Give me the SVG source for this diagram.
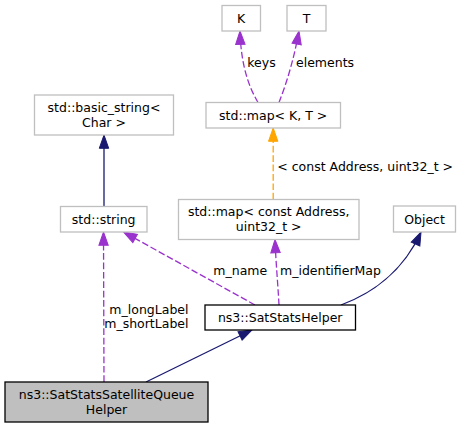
<svg xmlns="http://www.w3.org/2000/svg" width="465" height="428" viewBox="0 0 465 428">
<style>
text{font-family:"DejaVu Sans","Liberation Sans",sans-serif;font-size:12.5px;fill:#000}
.n text{text-anchor:middle}
.g rect{fill:#fff;stroke:#bfbfbf;stroke-width:1.3}
.b rect{fill:#fff;stroke:#000;stroke-width:1.3}
.cur rect{fill:#bfbfbf;stroke:#000;stroke-width:1.3}
.e path{fill:none;stroke-width:1.3}
.nav{stroke:#191970}
.pur{stroke:#9a32cd;stroke-dasharray:6.7,2.7}
.org{stroke:#ffa500;stroke-dasharray:6.7,2.7}
</style>
<defs>
<marker id="aNav" markerUnits="userSpaceOnUse" markerWidth="16" markerHeight="12" refX="13.3" refY="6" orient="auto" overflow="visible"><path d="M0,1.3 L13.3,6 L0,10.7 z" fill="#191970" stroke="#191970" stroke-width="1"/></marker>
<marker id="aPur" markerUnits="userSpaceOnUse" markerWidth="16" markerHeight="12" refX="13.3" refY="6" orient="auto" overflow="visible"><path d="M0,1.3 L13.3,6 L0,10.7 z" fill="#9a32cd" stroke="#9a32cd" stroke-width="1"/></marker>
<marker id="aOrg" markerUnits="userSpaceOnUse" markerWidth="16" markerHeight="12" refX="13.3" refY="6" orient="auto" overflow="visible"><path d="M0,1.3 L13.3,6 L0,10.7 z" fill="#ffa500" stroke="#ffa500" stroke-width="1"/></marker>
</defs>
<g id="connectors" class="e">
<path class="nav" d="M104,206.5 L104,135" marker-end="url(#aNav)"/>
<path class="pur" d="M258,102.5 C249,87 241,66 240,31" marker-end="url(#aPur)"/>
<path class="pur" d="M279,102.5 C285,87 293,64 299,31" marker-end="url(#aPur)"/>
<path class="org" d="M273.2,199.5 L273.2,128" marker-end="url(#aOrg)"/>
<path class="pur" d="M255,305 L123.5,232" marker-end="url(#aPur)"/>
<path class="pur" d="M279,305 C278,285 276,265 275,239.5" marker-end="url(#aPur)"/>
<path class="nav" d="M341,305 C371,294 403,272 421,232" marker-end="url(#aNav)"/>
<path class="nav" d="M146,382 L252,330" marker-end="url(#aNav)"/>
<path class="pur" d="M104,382 L103.5,232" marker-end="url(#aPur)"/>
<text x="247.3" y="66.8">keys</text>
<text x="296" y="66.8">elements</text>
<text x="277.3" y="171">&lt; const Address, uint32_t &gt;</text>
<text x="213.3" y="275">m_name</text>
<text x="280" y="275">m_identifierMap</text>
<text x="188.5" y="313.5" text-anchor="end">m_longLabel</text>
<text x="188.5" y="328" text-anchor="end">m_shortLabel</text>
</g>
<g id="node-K" class="n g"><rect x="222" y="5.5" width="38.5" height="25.5"/><text x="241.2" y="22.8">K</text></g>
<g id="node-T" class="n g"><rect x="287" y="5.5" width="39" height="25.5"/><text x="306.5" y="22.8">T</text></g>
<g id="node-mapKT" class="n g"><rect x="206" y="102.5" width="134.5" height="25.5"/><text x="273.2" y="119.7">std::map&lt; K, T &gt;</text></g>
<g id="node-basic_string" class="n g"><rect x="34.5" y="95" width="139" height="40"/><text x="104" y="111.5">std::basic_string&lt;</text><text x="104" y="126.5">Char &gt;</text></g>
<g id="node-string" class="n g"><rect x="60.5" y="206.5" width="86.5" height="25.5"/><text x="103.7" y="223.8">std::string</text></g>
<g id="node-mapAddr" class="n g"><rect x="178.5" y="199.5" width="180.5" height="40"/><text x="268.7" y="216">std::map&lt; const Address,</text><text x="268.7" y="231">uint32_t &gt;</text></g>
<g id="node-Object" class="n g"><rect x="393.5" y="206" width="62" height="26"/><text x="424.5" y="223.5">Object</text></g>
<g id="node-SatStatsHelper" class="n b"><rect x="205" y="305" width="150.5" height="25"/><text x="280.2" y="322">ns3::SatStatsHelper</text></g>
<g id="node-SatStatsSatelliteQueueHelper" class="n cur"><rect x="5" y="382" width="203" height="40"/><text x="106.5" y="398.5">ns3::SatStatsSatelliteQueue</text><text x="106.5" y="413.5">Helper</text></g>
</svg>
